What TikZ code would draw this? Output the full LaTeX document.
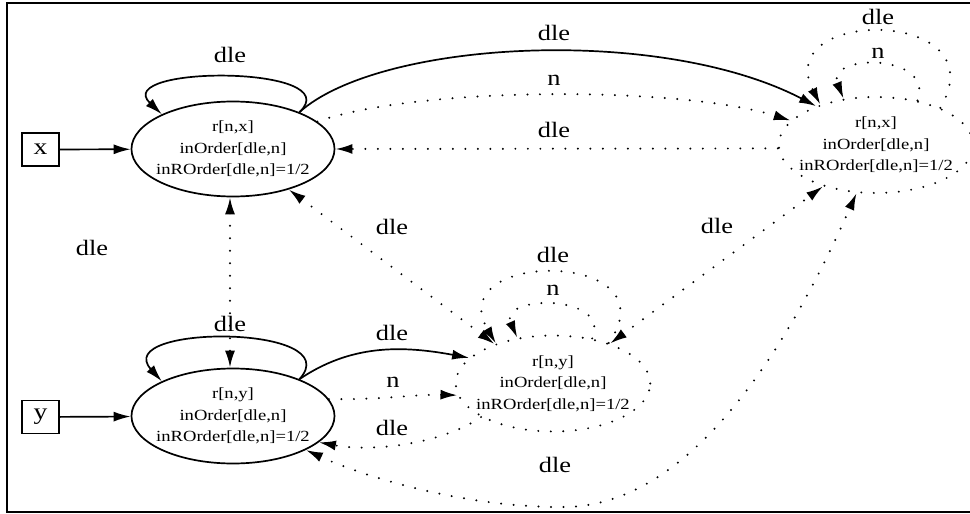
\documentclass[tikz,border=0pt]{standalone}
\usepackage{fontspec}
\setmainfont{Liberation Serif}[FakeStretch=1.2]
\usetikzlibrary{shapes.geometric,arrows.meta}

\begin{document}
\begin{tikzpicture}[x=1pt,y=-1pt,line width=1.7pt,
  state/.style={ellipse,draw,align=center,font=\fontsize{15.5}{21.5}\selectfont,inner xsep=-5pt,inner ysep=0pt,minimum width=200pt,minimum height=95pt},
  summary/.style={state,dotline,inner xsep=-8pt,minimum width=192pt,minimum height=96pt},
  dotline/.style={line width=2.2pt,line cap=round,dash pattern=on 0pt off 12.5pt},
  varbox/.style={draw,minimum width=37pt,minimum height=33pt,inner sep=0pt,font=\fontsize{23}{24}\selectfont},
  lbl/.style={font=\fontsize{22}{24}\selectfont,inner sep=0pt},
  onearrow/.style={-{Latex[length=17pt,width=10pt]}},
  twoarrows/.style={{Latex[length=17pt,width=10pt]}-{Latex[length=17pt,width=10pt]}}]
\useasboundingbox (0, 0) rectangle (970, 514);
\draw [line width=2pt] (980, 3) -- (7, 3) -- (7, 512) -- (980, 512);

\node (xvar) at (40.5, 149.5) [varbox] {x};
\node (yvar) at (40.5, 417) [varbox] {y};
\node (xnode) at (233, 149) [state] {r[n,x]\\inOrder[dle,n]\\inROrder[dle,n]=1/2};
\node (ynode) at (233, 416) [state] {r[n,y]\\inOrder[dle,n]\\inROrder[dle,n]=1/2};
\node (xsum) at (876, 145) [summary] {r[n,x]\\inOrder[dle,n]\\inROrder[dle,n]=1/2};
\node (ysum) at (553, 383.5) [summary] {r[n,y]\\inOrder[dle,n]\\inROrder[dle,n]=1/2};

\draw [onearrow] (xvar) -- (xnode);
\draw [onearrow] (yvar) -- (ynode);

\draw [onearrow] (xnode.29) .. controls (350, 65) and (110, 65) .. (xnode.154);
\node (lxloop) at (230, 55) [lbl] {dle};
\draw [onearrow] (ynode.29) .. controls (350, 324) and (110, 324) .. (ynode.154);
\node (lyloop) at (230, 324) [lbl] {dle};

\draw [dotline,twoarrows] ([xshift=-3pt]xnode.south) -- ([xshift=-3pt]ynode.north);
\node (lxy) at (92, 248) [lbl] {dle};

\draw [onearrow] (xnode.29) .. controls (380, 40) and (660, 25) .. (xsum.147);
\node (lxsdle) at (554, 33) [lbl] {dle};
\draw [dotline,onearrow] (xnode.18) .. controls (420, 86) and (680, 86) .. (xsum.164);
\node (lxsn) at (554, 80) [lbl] {n};
\draw [dotline,onearrow] (xsum.182) -- (xnode.east);
\node (lsxdle) at (554, 130) [lbl] {dle};

\draw [dotline,twoarrows] (xnode.-36) -- (ysum.146);
\node (lxys) at (392, 227) [lbl] {dle};

\draw [dotline,onearrow] (xsum.30) .. controls (1000, 7) and (770, 7) .. (xsum.144);
\node (lxsloop) at (878, 17) [lbl] {dle};
\draw [dotline,onearrow] (xsum.47) .. controls (935, 53) and (825, 53) .. (xsum.125);
\node (lxsloopn) at (878, 53) [lbl] {n};

\draw [dotline,twoarrows] (ysum.35) -- (xsum.218);
\node (lysxs) at (717, 226) [lbl] {dle};

\draw [dotline,onearrow] (ysum.36) .. controls (675, 249) and (440, 249) .. (ysum.145);
\node (lysloop) at (553, 255) [lbl] {dle};
\draw [dotline,onearrow] (ysum.49) .. controls (612, 294) and (498, 294) .. (ysum.128);
\node (lysloopn) at (553, 290) [lbl] {n};

\draw [onearrow] (ynode.29) .. controls (350, 345) and (400, 345) .. (ysum.163);
\node (lyysdle) at (392, 333) [lbl] {dle};
\draw [dotline,onearrow] (ynode.10) .. controls (380, 400) and (420, 394) .. (ysum.187);
\node (lyysn) at (393, 382) [lbl] {n};
\draw [dotline,onearrow] (ysum.205) .. controls (440, 445) and (370, 452) .. (ynode.343);
\node (lysy) at (392, 428) [lbl] {dle};

\draw [dotline,twoarrows] (ynode.335) .. controls (360, 475) and (460, 507) .. (560, 507) .. controls (700, 510) and (800, 320) .. (xsum.248);
\node (lyxs) at (555, 465) [lbl] {dle};
\end{tikzpicture}
\end{document}
